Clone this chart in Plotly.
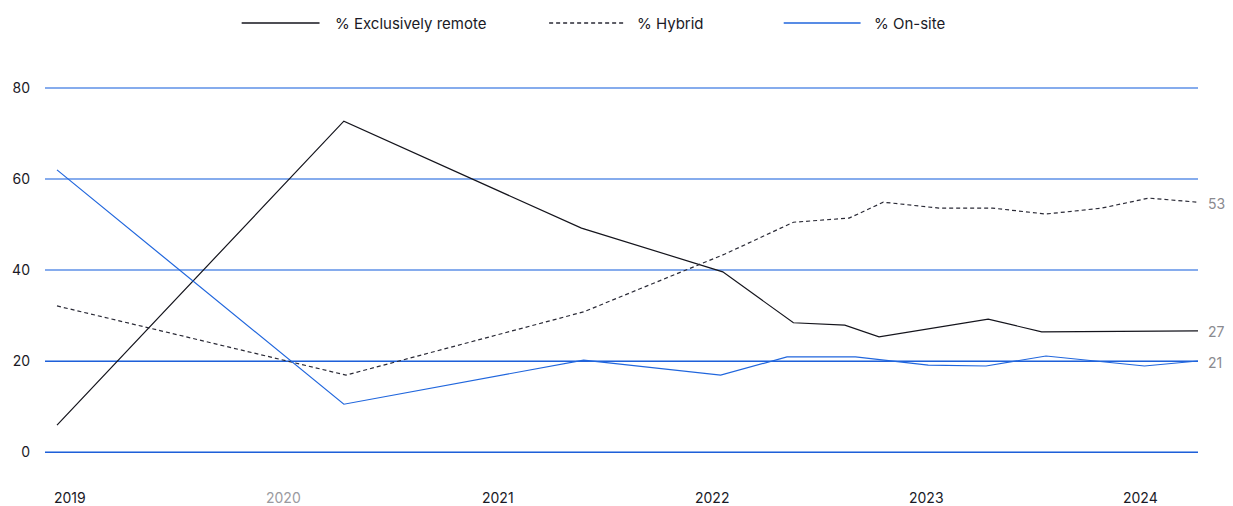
import plotly.graph_objects as go

# ---- data (decimal years, percent) ----
remote_t = [2019.0, 2020.34, 2021.45, 2022.11, 2022.44, 2022.68, 2022.84, 2023.35, 2023.60, 2024.0, 2024.33]
remote_v = [5.9, 72.7, 49.2, 39.6, 28.4, 27.9, 25.3, 29.2, 26.4, 26.5, 26.6]

hybrid_t = [2019.0, 2020.35, 2021.46, 2022.12, 2022.44, 2022.70, 2022.86, 2023.12, 2023.37, 2023.62, 2023.88, 2024.10, 2024.33]
hybrid_v = [32.1, 16.9, 30.8, 43.5, 50.5, 51.4, 54.9, 53.6, 53.6, 52.3, 53.6, 55.8, 54.9]

onsite_t = [2019.0, 2020.34, 2021.46, 2022.10, 2022.41, 2022.73, 2023.07, 2023.34, 2023.62, 2024.08, 2024.33]
onsite_v = [62.0, 10.5, 20.2, 16.9, 20.9, 20.9, 19.1, 18.9, 21.1, 18.9, 20.0]

series_names = ["% Exclusively remote", "% Hybrid", "% On-site"]
end_labels = ["27", "53", "21"]
year_labels = ["2019", "2020", "2021", "2022", "2023", "2024"]
year_pos = [2019.06, 2020.06, 2021.06, 2022.06, 2023.06, 2024.06]
y_ticks = [0, 20, 40, 60, 80]

BLACK = "#14141c"
BLUE = "#2066dd"
FONT = "Inter"

fig = go.Figure()
fig.add_trace(go.Scatter(x=remote_t, y=remote_v, mode="lines", name=series_names[0],
                         line=dict(color=BLACK, width=1.2)))
fig.add_trace(go.Scatter(x=hybrid_t, y=hybrid_v, mode="lines", name=series_names[1],
                         line=dict(color="#2a2a36", width=1.2, dash="4px,3px")))
fig.add_trace(go.Scatter(x=onsite_t, y=onsite_v, mode="lines", name=series_names[2],
                         line=dict(color=BLUE, width=1.2)))
# dark gridlines for 0 and 20 on an overlay axis
fig.add_trace(go.Scatter(x=[remote_t[0]], y=[0], yaxis="y2", mode="markers",
                         marker=dict(opacity=0), showlegend=False, hoverinfo="skip"))

x_range = [2018.944, 2024.33]
y_range = [-0.879, 80.879]

annotations = []
# end labels
for t, v, lab in [(remote_t[-1], remote_v[-1], end_labels[0]),
                  (hybrid_t[-1], hybrid_v[-1], end_labels[1]),
                  (onsite_t[-1], onsite_v[-1], end_labels[2])]:
    annotations.append(dict(x=t, y=v, xref="x", yref="y", text=lab, showarrow=False,
                            xanchor="left", xshift=8, yshift=-1,
                            font=dict(family=FONT, size=14, color="#8a8a8f")))
# year labels
for pos, lab in zip(year_pos, year_labels):
    annotations.append(dict(x=pos, y=(456 - 498) / 372, xref="x", yref="paper", text=lab,
                            showarrow=False, xanchor="center", yanchor="middle",
                            font=dict(family=FONT, size=14,
                                      color="#9a9aa0" if lab == "2020" else "#1a1a26")))

# manual legend
def px_x(p):
    return (p - 43) / 1155

def px_y(p):
    return (456 - p) / 372

shapes = []
legend_items = [(240, 318, BLACK, "solid", 331, series_names[0]),
                (548, 625, "#2a2a36", "4px,3px", 634, series_names[1]),
                (783, 860, BLUE, "solid", 871, series_names[2])]
for x0, x1, col, dash, tx, name in legend_items:
    shapes.append(dict(type="line", xref="paper", yref="paper",
                       x0=px_x(x0), x1=px_x(x1), y0=px_y(23), y1=px_y(23),
                       line=dict(color=col, width=1.5, dash=dash)))
    annotations.append(dict(x=px_x(tx), y=px_y(24), xref="paper", yref="paper", text=name,
                            showarrow=False, xanchor="left", yanchor="middle",
                            font=dict(family=FONT, size=15, color="#1a1a26")))

fig.update_layout(
    width=1233, height=506,
    margin=dict(l=43, r=35, t=84, b=50),
    paper_bgcolor="white", plot_bgcolor="white",
    showlegend=False,
    font=dict(family=FONT, size=14, color="#1a1a26"),
    xaxis=dict(range=x_range, showgrid=False, zeroline=False, showticklabels=False,
               showline=False, ticks=""),
    yaxis=dict(range=y_range, tickvals=y_ticks, ticktext=[str(v) for v in y_ticks],
               showgrid=True, gridcolor="#86aced", gridwidth=1.5, zeroline=False,
               showline=False, ticks="", ticklabelstandoff=14,
               tickfont=dict(family=FONT, size=14, color="#1a1a26")),
    yaxis2=dict(range=y_range, overlaying="y", tickvals=[0, 20], showticklabels=False,
                showgrid=True, gridcolor="#1f5fd8", gridwidth=1, zeroline=False,
                showline=False, ticks=""),
    annotations=annotations,
    shapes=shapes,
)

fig.write_html("out.html")
